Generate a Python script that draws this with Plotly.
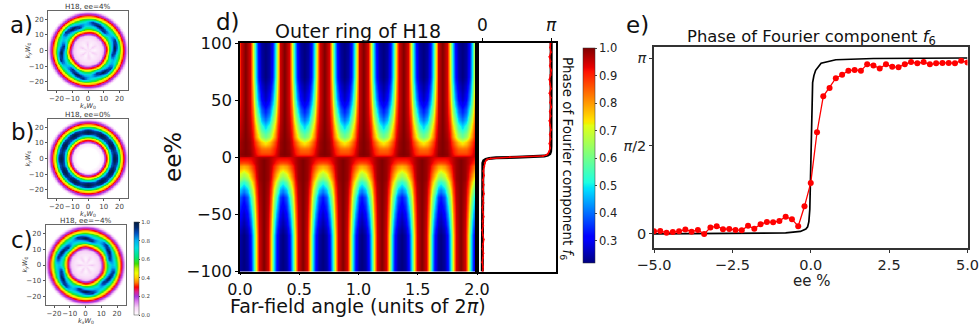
import numpy as np
import plotly.graph_objects as go

W, H = 980, 327
FONT = "DejaVu Sans"

# ---------- panel e data ----------
ee_measured = [-5.0,-4.8,-4.6,-4.4,-4.2,-4.0,-3.8,-3.6,-3.4,-3.2,-3.0,-2.8,-2.6,-2.4,-2.2,-2.0,-1.8,-1.6,-1.4,-1.2,-1.0,-0.8,-0.6,-0.4,-0.2,0.0,
               0.2,0.4,0.6,0.8,1.0,1.2,1.4,1.6,1.8,2.0,2.2,2.4,2.6,2.8,3.0,3.2,3.4,3.6,3.8,4.0,4.2,4.4,4.6,4.8,5.0]
phase_measured = [.015,.017,.006,.011,.015,.025,.013,.023,.0,.036,.044,.027,.028,.023,.021,.047,.03,.055,.068,.066,.074,.098,.083,.044,.157,.29,
                  .578,.782,.83,.885,.905,.928,.932,.928,.964,.958,.94,.964,.95,.948,.964,.977,.97,.977,.964,.97,.972,.972,.97,.985,.975]
ee_theory = [-5,-2,-.8,-.33,-.156,-.1,-.06,-.03,0,.03,.06,.1,.156,.33,.8,2,5]
phase_theory = [0,.003,.006,.014,.028,.04,.07,.14,.4,.7,.86,.9,.93,.97,.99,.997,1]

# ---------- panel d strip data ----------
strip_ee_theory = [-100,-10,-5,-3,-1.8,-1,-.5,0,.5,1,1.8,3,5,10,100]
strip_phase_theory = [0,.003,.008,.02,.05,.1,.2,.5,.8,.9,.95,.98,.992,.997,1]
strip_ee_red = [-100,-96,-92,-88,-84,-80,-76,-72,-68,-64,-60,-56,-52,-48,-44,-40,-36,-32,-28,-24,-20,-16,-12,-8,-5,-3,-2,-1,0,1,2,3,5,8,12,16,20,24,28,32,36,40,44,48,52,56,60,64,68,72,76,80,84,88,92,96,100]
strip_phase_red = [.005,.012,.0,.01,.016,.004,.012,.02,.008,.0,.014,.006,.018,.01,.003,.016,.008,.022,.012,.018,.01,.024,.016,.028,.035,.05,.07,.12,.4,.88,.93,.95,.97,.985,.975,.99,.98,.995,.985,.975,.99,.98,1.0,.985,.992,.975,.995,.985,.975,.99,1.0,.98,.99,.975,.995,.985,.99]

# ---------- panel d heatmap table: distance from a trough (in periods) vs value ----------
trough_distance = [0, .1, .18, .25, .31, .38, .5]
angle_period = 1 / 3
trough_upper = 0.211
trough_lower = 0.03
ee_rows = [-100,-68,-50,-35,-23,-19,-13,-8,-5,-2,0,1,3,8,13,18,25,35,50,70,100]
row_m100 = [.22,.24,.32,.5,.72,.94,1]
row_m68 = [.22,.25,.34,.52,.74,.94,1]
row_m50 = [.27,.32,.44,.6,.8,.95,1]
row_m35 = [.33,.39,.54,.68,.85,.96,1]
row_m23 = [.5,.56,.68,.78,.9,.97,1]
row_m19 = [.6,.65,.74,.82,.92,.98,1]
row_m13 = [.7,.74,.8,.87,.94,.98,1]
row_m8 = [.78,.8,.85,.9,.95,.98,1]
row_m5 = [.86,.87,.9,.93,.96,.98,1]
row_m2 = [.91,.91,.92,.94,.96,.98,1]
row_0 = [.94,.94,.94,.95,.96,.97,.97]
row_p1 = [.93,.93,.93,.94,.96,.98,.99]
row_p3 = [.88,.88,.9,.93,.96,.99,1]
row_p8 = [.82,.83,.87,.91,.95,.98,1]
row_p13 = [.72,.76,.82,.88,.94,.98,1]
row_p18 = [.6,.65,.74,.82,.92,.97,1]
row_p25 = [.5,.56,.68,.78,.9,.96,1]
row_p35 = [.38,.44,.58,.7,.86,.95,1]
row_p50 = [.27,.32,.44,.6,.8,.94,1]
row_p70 = [.22,.25,.34,.52,.74,.94,1]
row_p100 = [.22,.24,.32,.5,.72,.94,1]
far_rows = np.array([row_m100,row_m68,row_m50,row_m35,row_m23,row_m19,row_m13,row_m8,row_m5,row_m2,row_0,
                     row_p1,row_p3,row_p8,row_p13,row_p18,row_p25,row_p35,row_p50,row_p70,row_p100])

# ---------- ring tables: radius vs value at four angular positions of a 60 degree period ----------
ring_radius = [0,4,7,9.5,11,12,13,14,15.5,17,18.5,20,21,22,23,24,25,26]
lobe_profile =  [.05,.02,.05,.09,.23,.32,.45,.62,.84,1,.84,.6,.47,.36,.25,.17,.08,0]
outer_profile = [.05,.04,.05,.09,.24,.33,.46,.6,.74,.88,.94,.62,.47,.36,.25,.17,.08,0]
gap_profile =   [.05,.09,.05,.09,.26,.36,.48,.6,.72,.78,.72,.58,.45,.35,.25,.17,.08,0]
inner_profile = [.05,.04,.05,.1,.26,.36,.5,.7,.94,.88,.7,.56,.45,.35,.25,.17,.08,0]
lobe_angle_a = 5
lobe_angle_c = 30
band_peak = [.0,.0,.0,.05,.23,.33,.47,.65,.93,1,.93,.6,.46,.36,.25,.17,.08,0]
band_dip =  [.0,.0,.0,.05,.24,.34,.47,.64,.88,.93,.88,.6,.46,.36,.25,.17,.08,0]
lobe_angle_b = 0

# ---------- colours ----------
jet = [[0,'#00007f'],[.11,'#0000ff'],[.125,'#0000ff'],[.34,'#00dbff'],[.35,'#00e5f7'],[.375,'#1effe0'],[.64,'#e2ff15'],[.65,'#f0f000'],[.66,'#ffe600'],[.89,'#ff1200'],[.91,'#e80000'],[1,'#7f0000']]
ring_scale = [[0,'#ffffff'],[.08,'#f7d4f7'],[.15,'#d878ec'],[.2,'#a838e0'],[.25,'#e0208c'],[.3,'#ff0000'],[.35,'#ff8000'],[.4,'#ffd000'],[.45,'#f0ff00'],
              [.5,'#c0f000'],[.55,'#40e000'],[.62,'#00e878'],[.72,'#00e0e0'],[.8,'#00b0f0'],[.88,'#0050c0'],[.94,'#002a70'],[1,'#001c40']]


def xdom(l, r): return [l / W, r / W]
def ydom(t, b): return [1 - b / H, 1 - t / H]


def far_field():
    xs = np.linspace(0, 2, 241)
    ys = np.linspace(-100, 100, 201)
    rows = []
    for e in ee_rows:
        i = ee_rows.index(e)
        t = trough_upper if e > 0 else trough_lower
        ph = np.abs(((xs - t) / angle_period + .5) % 1 - .5)
        rows.append(np.interp(ph, trough_distance, far_rows[i]))
    rows = np.array(rows)
    z = np.array([np.interp(ys, ee_rows, rows[:, j]) for j in range(len(xs))]).T
    return xs, ys, z


def ring_grid(cols, lobe_angle):
    g = np.linspace(-26, 26, 131)
    X, Y = np.meshgrid(g, g)
    R = np.hypot(X, Y)
    T = (np.degrees(np.arctan2(Y, X)) - lobe_angle) % 60 / 15
    n = len(cols)
    i0 = np.floor(T).astype(int) % n
    i1 = (i0 + 1) % n
    f = T - np.floor(T)
    prof = [np.interp(R, ring_radius, c) for c in cols]
    Z = np.zeros_like(R)
    for k in range(n):
        Z += prof[k] * ((i0 == k) * (1 - f) + (i1 == k) * f)
    return g, Z


fig = go.Figure()

# small ring panels
panels = [
    ("a", [lobe_profile, outer_profile, gap_profile, inner_profile], lobe_angle_a, (48, 128, 11, 90), "H18, ee=4%", 1),
    ("b", [band_peak, band_dip, band_peak, band_dip], lobe_angle_b, (48, 128, 119, 198), "H18, ee=0%", 2),
    ("c", [lobe_profile, outer_profile, gap_profile, inner_profile], lobe_angle_c, (45.5, 125.5, 225, 305), "H18, ee=−4%", 3),
]
annots = []
layout = {}
for name, cols, ang, (l, r, t, b), title, n in panels:
    g, Z = ring_grid(cols, ang)
    show = n == 3
    fig.add_trace(go.Heatmap(x=g, y=g, z=Z, xaxis=f"x{n}", yaxis=f"y{n}", zmin=0, zmax=1, zsmooth="best",
                             colorscale=ring_scale, showscale=show,
                             colorbar=dict(x=134/W, xanchor="left", xref="paper", y=1-268.5/H, yanchor="middle", yref="paper",
                                           lenmode="pixels", len=93, thickness=4.5, thicknessmode="pixels", outlinewidth=0.5, outlinecolor="#444",
                                           tickvals=[0,.2,.4,.6,.8,1], ticktext=["0.0","0.2","0.4","0.6","0.8","1.0"], ticks="outside", ticklen=1.5, tickwidth=.5,
                                           tickfont=dict(family=FONT, size=5.5, color="#444"), xpad=0, ypad=0)))
    ax = dict(range=[-25.4, 25.4], tickvals=[-20,-10,0,10,20], ticks="outside", ticklen=2, tickwidth=.7, tickcolor="#555", tickangle=0, automargin=False,
              tickfont=dict(family=FONT, size=7, color="#444"), showgrid=False, zeroline=False, showline=True, mirror=True, linecolor="#666", linewidth=1)
    layout[f"xaxis{n}"] = dict(ax, domain=xdom(l, r), anchor=f"y{n}")
    layout[f"yaxis{n}"] = dict(ax, domain=ydom(t, b), anchor=f"x{n}")
    cx = (l + r) / 2
    annots.append(dict(text=title, x=cx, y=t - 5, size=7.2, color="#333"))
    annots.append(dict(text="<i>k<sub>x</sub>W</i><sub>0</sub>", x=cx, y=b + 15.5, size=6.5, color="#333"))
    annots.append(dict(text="<i>k<sub>y</sub>W</i><sub>0</sub>", x=l - 21, y=(t + b) / 2, size=6.5, color="#333", rot=-90))

# panel d heatmap
xs, ys, z = far_field()
fig.add_trace(go.Heatmap(x=xs, y=ys, z=z, xaxis="x4", yaxis="y4", zmin=.22, zmax=1, zsmooth="best", colorscale=jet,
                         colorbar=dict(x=582.7/W, xanchor="left", y=1-155.5/H, yanchor="middle", lenmode="pixels", len=215,
                                       thickness=11.5, thicknessmode="pixels", outlinewidth=.5, outlinecolor="#333",
                                       tickvals=[.3,.4,.5,.6,.7,.8,.9,1], ticktext=["0.3","0.4","0.5","0.6","0.7","0.8","0.9","1.0"],
                                       ticks="outside", ticklen=2, tickwidth=.7, tickfont=dict(family=FONT, size=11.5, color="#222"), xpad=0, ypad=0)))
layout["xaxis4"] = dict(domain=xdom(240, 477), anchor="y4", range=[0, 2], tickvals=[0,.5,1,1.5,2], ticktext=["0.0","0.5","1.0","1.5","2.0"], tickangle=0,
                        ticks="outside", ticklen=2, tickwidth=1, tickcolor="#000", tickfont=dict(family=FONT, size=16, color="#111"),
                        showgrid=False, zeroline=False, showline=True, mirror=True, linecolor="#000", linewidth=1.6)
layout["yaxis4"] = dict(domain=ydom(43, 271.5), anchor="x4", range=[-100, 100], tickvals=[-100,-50,0,50,100],
                        ticks="outside", ticklen=3, tickwidth=1, tickcolor="#000", tickfont=dict(family=FONT, size=16.5, color="#111"),
                        showgrid=False, zeroline=False, showline=True, mirror=True, linecolor="#000", linewidth=1.6)

# strip
fig.add_trace(go.Scatter(x=strip_phase_theory, y=strip_ee_theory, xaxis="x5", yaxis="y5", mode="lines", line=dict(color="#000", width=3), showlegend=False))
fig.add_trace(go.Scatter(x=strip_phase_red, y=strip_ee_red, xaxis="x5", yaxis="y5", mode="lines+markers", line=dict(color="#ff0000", width=1.5),
                         marker=dict(color="#ff0000", size=2), showlegend=False))
layout["xaxis5"] = dict(domain=xdom(477, 556), anchor="y5", side="top", range=[-.077, 1.07], tickvals=[0, 1], ticktext=["0", "<i>π</i>"], tickangle=0,
                        ticks="outside", ticklen=3, tickwidth=1, tickcolor="#000", tickfont=dict(family=FONT, size=17, color="#111"),
                        showgrid=False, zeroline=False, showline=True, mirror=True, linecolor="#000", linewidth=1.6)
layout["yaxis5"] = dict(domain=ydom(43, 271.5), anchor="x5", range=[-100, 100], showticklabels=False, ticks="",
                        showgrid=False, zeroline=False, showline=True, mirror=True, linecolor="#000", linewidth=1.6)

# panel e
fig.add_trace(go.Scatter(x=ee_theory, y=phase_theory, xaxis="x6", yaxis="y6", mode="lines", line=dict(color="#000", width=1.7), showlegend=False))
fig.add_trace(go.Scatter(x=ee_measured, y=phase_measured, xaxis="x6", yaxis="y6", mode="lines+markers", line=dict(color="#ff0000", width=1.3),
                         marker=dict(color="#ff0000", size=6), showlegend=False))
layout["xaxis6"] = dict(domain=xdom(654, 967.5), anchor="y6", range=[-5, 5], tickvals=[-5,-2.5,0,2.5,5], ticktext=["−5.0","−2.5","0.0","2.5","5.0"], tickangle=0,
                        ticks="outside", ticklen=3, tickwidth=1, tickcolor="#333", tickfont=dict(family=FONT, size=14.5, color="#222"),
                        showgrid=False, zeroline=False, showline=True, mirror=True, linecolor="#333", linewidth=1.5)
layout["yaxis6"] = dict(domain=ydom(47, 248), anchor="x6", range=[-.08, 1.0625], tickvals=[0,.5,1], ticktext=["0", "<i>π</i>/2", "<i>π</i>"],
                        ticks="outside", ticklen=3, tickwidth=1, tickcolor="#333", tickfont=dict(family=FONT, size=14.5, color="#222"),
                        showgrid=False, zeroline=False, showline=True, mirror=True, linecolor="#333", linewidth=1.5)

annots += [
    dict(text="a)", x=21, y=25, size=23, color="#111"),
    dict(text="b)", x=23, y=132, size=23, color="#111"),
    dict(text="c)", x=22, y=240, size=23, color="#111"),
    dict(text="d)", x=228, y=22, size=23, color="#111"),
    dict(text="e)", x=637, y=25, size=23, color="#111"),
    dict(text="Outer ring of H18", x=358, y=31.5, size=19, color="#111"),
    dict(text="ee%", x=173, y=157, size=23, color="#111", rot=-90),
    dict(text="Far-field angle (units of 2<i>π</i>)", x=358, y=306, size=19, color="#111"),
    dict(text="Phase of Fourier component <i>f</i><sub>6</sub>", x=567, y=158, size=13.4, color="#111", rot=90),
    dict(text="Phase of Fourier component <i>f</i><sub>6</sub>", x=811, y=37, size=16.4, color="#111"),
    dict(text="ee %", x=811, y=281, size=15, color="#222"),
]
layout_annots = [dict(text=a["text"], x=a["x"] / W, y=1 - a["y"] / H, xref="paper", yref="paper", xanchor="center", yanchor="middle",
                      showarrow=False, textangle=a.get("rot", 0), font=dict(family=FONT, size=a["size"], color=a["color"])) for a in annots]

fig.update_layout(width=W, height=H, margin=dict(l=0, r=0, t=0, b=0, autoexpand=False), paper_bgcolor="#fff", plot_bgcolor="#fff",
                  showlegend=False, annotations=layout_annots, **layout)
fig.write_html("out.html", post_script="document.body.style.margin='0';", config={"displayModeBar": False})
